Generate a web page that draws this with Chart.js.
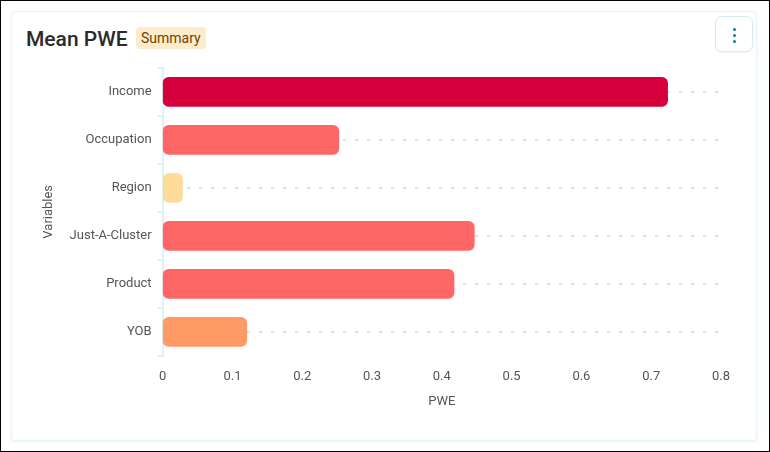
<!DOCTYPE html>
<html>
<head>
<meta charset="utf-8">
<script src="https://cdn.jsdelivr.net/npm/chart.js@4.4.0/dist/chart.umd.min.js"></script>
<style>
    html, body { margin: 0; padding: 0; }
    body {
        width: 770px;
        height: 452px;
        box-sizing: border-box;
        border: 1px solid #000;
        background: #fff;
        font-family: Roboto, "Open Sans", sans-serif;
        position: relative;
        overflow: hidden;
    }
    .card {
        position: absolute;
        left: 10px;
        top: 10px;
        width: 746px;
        height: 430px;
        box-sizing: border-box;
        border: 1px solid #e6f5f8;
        border-radius: 4px;
        box-shadow: 0 1px 3px rgba(0, 0, 0, 0.06);
        background: #fff;
    }
    .title {
        position: absolute;
        left: 14px;
        top: 15px;
        font-size: 21px;
        font-weight: 500;
        color: #2b2b2b;
    }
    .badge {
        position: absolute;
        left: 124px;
        top: 15px;
        padding: 3px 5px;
        font-size: 14px;
        color: #6b4300;
        background: #fdeccb;
        border-radius: 4px;
    }
    .menu {
        position: absolute;
        right: 3px;
        top: 4px;
        width: 38px;
        height: 36px;
        box-sizing: border-box;
        border: 1px solid #d5ecee;
        border-radius: 7px;
        box-shadow: 0 1px 2px rgba(0, 0, 0, 0.05);
    }
    .menu span {
        position: absolute;
        left: 17px;
        width: 3px;
        height: 3px;
        border-radius: 50%;
        background: #127a96;
    }
    .chart-box {
        position: absolute;
        left: 11px;
        top: 42px;
        width: 727px;
        height: 360px;
    }
</style>
</head>
<body>
<div class="card">
    <div class="title">Mean PWE</div>
    <div class="badge">Summary</div>
    <div class="menu"><span style="top:11px"></span><span style="top:17px"></span><span style="top:23px"></span></div>
    <div class="chart-box"><canvas id="pweChart"></canvas></div>
</div>
<script>
    // Chart data
    const variables = ['Income', 'Occupation', 'Region', 'Just-A-Cluster', 'Product', 'YOB'];
    const meanPwe = [0.724, 0.253, 0.029, 0.447, 0.418, 0.121];
    const barColors = ['#d5003b', '#ff6666', '#ffdb99', '#ff6666', '#ff6666', '#ff9966'];
    const pweTicks = [0, 0.1, 0.2, 0.3, 0.4, 0.5, 0.6, 0.7, 0.8];

    const axisColor = '#dcf3f8';
    const textColor = '#555';

    const ctx = document.getElementById('pweChart').getContext('2d');
    new Chart(ctx, {
        type: 'bar',
        data: {
            labels: variables,
            datasets: [{
                label: 'Mean PWE',
                data: meanPwe,
                backgroundColor: barColors,
                borderRadius: 6,
                borderSkipped: false,
                barPercentage: 0.62,
                categoryPercentage: 1,
                yAxisID: 'y'
            }]
        },
        options: {
            indexAxis: 'y',
            responsive: true,
            maintainAspectRatio: false,
            animation: false,
            layout: {
                padding: { top: 0, right: 29, left: 0, bottom: 0 }
            },
            plugins: {
                legend: { display: false },
                tooltip: { enabled: false }
            },
            scales: {
                x: {
                    type: 'linear',
                    min: 0,
                    max: 0.8,
                    afterBuildTicks: scale => {
                        scale.ticks = pweTicks.map(v => ({ value: v }));
                    },
                    grid: { display: false, drawTicks: false },
                    border: { display: false },
                    ticks: {
                        color: textColor,
                        font: { family: 'Roboto', size: 13 },
                        padding: 13
                    },
                    title: {
                        display: true,
                        text: 'PWE',
                        color: textColor,
                        font: { family: 'Roboto', size: 13 },
                        padding: { top: -3, bottom: 4 }
                    }
                },
                y: {
                    type: 'category',
                    offset: true,
                    grid: {
                        offset: true,
                        drawOnChartArea: false,
                        tickLength: 5,
                        color: axisColor,
                        lineWidth: 2
                    },
                    border: { color: axisColor, width: 2 },
                    ticks: {
                        color: textColor,
                        font: { family: 'Roboto', size: 13 },
                        padding: 6
                    },
                    title: {
                        display: true,
                        text: 'Variables',
                        color: textColor,
                        font: { family: 'Roboto', size: 13 },
                        padding: { top: 18, bottom: 7 }
                    }
                },
                // dotted guide lines through the centre of each category
                yGuide: {
                    type: 'category',
                    axis: 'y',
                    position: 'left',
                    labels: variables,
                    offset: true,
                    grid: {
                        offset: false,
                        drawTicks: false,
                        color: '#bfeefa',
                        lineWidth: 2
                    },
                    border: { display: false, dash: [3, 9] },
                    ticks: { display: false }
                }
            }
        }
    });
</script>
</body>
</html>
